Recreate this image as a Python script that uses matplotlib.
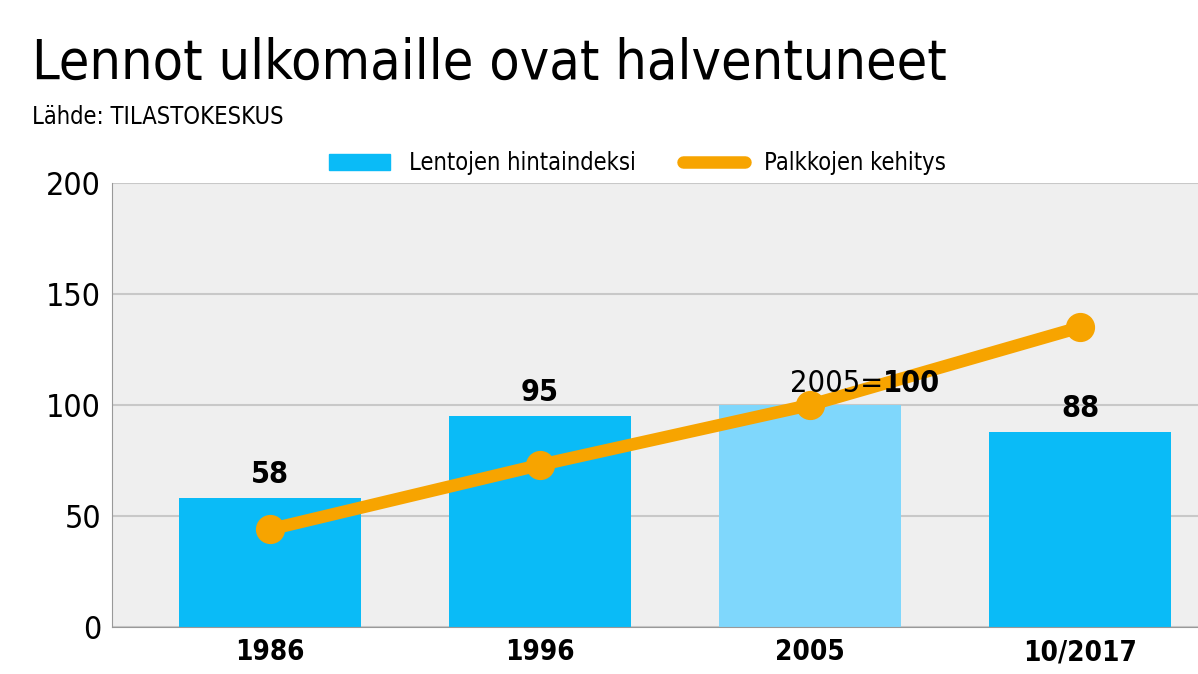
import matplotlib.pyplot as plt
from matplotlib.patches import Patch
from matplotlib.lines import Line2D

years = ["1986", "1996", "2005", "10/2017"]
flight_index = [58, 95, 100, 88]
wages = [44, 73, 100, 135]
yticks = [0, 50, 100, 150, 200]

plt.rcParams["font.family"] = "DejaVu Sans"
plt.rcParams["font.stretch"] = "condensed"
blue = "#0abbf7"
light_blue = "#7fd7fc"
orange = "#f7a400"

fig = plt.figure(figsize=(11.98, 6.74), dpi=100)
ax = fig.add_axes([0.0935, 0.0697, 0.9065, 0.6588])
ax.set_facecolor("#efefef")

x = list(range(len(years)))
colors = [blue, blue, light_blue, blue]
ax.bar(x, flight_index, width=0.674, color=colors, zorder=2)
ax.plot(x, wages, color=orange, lw=9, marker="o", markersize=20, zorder=3,
        solid_capstyle="round")

for i, v in enumerate(flight_index):
    if i == 2:
        continue
    ax.text(i, v + 4, str(v), ha="center", va="bottom", fontsize=22, fontweight="bold")
ax.text(2.27, 103, "2005=", ha="right", va="bottom", fontsize=22)
ax.text(2.27, 103, "100", ha="left", va="bottom", fontsize=22, fontweight="bold")

ax.set_xlim(-0.585, 3.437)
ax.set_ylim(0, 200)
ax.set_yticks(yticks)
ax.set_yticklabels([str(t) for t in yticks], fontsize=23)
ax.set_xticks(x)
ax.set_xticklabels(years, fontsize=20, fontweight="bold")
ax.grid(axis="y", color="#c8c8c8", lw=1.5, zorder=0)
ax.tick_params(length=0, pad=8)
for s in ["top", "right"]:
    ax.spines[s].set_visible(False)
ax.spines["left"].set_color("#999999")
ax.spines["bottom"].set_color("#999999")

handles = [Patch(color=blue, label="Lentojen hintaindeksi"),
           Line2D([0], [0], color=orange, lw=9, solid_capstyle="round", label="Palkkojen kehitys")]
fig.legend(handles=handles, loc="center", bbox_to_anchor=(0.532, 0.758), ncol=2,
           frameon=False, prop={"size": 17}, handlelength=2.6, columnspacing=2.0)

fig.text(0.027, 0.905, "Lennot ulkomaille ovat halventuneet", fontsize=40, va="center")
fig.text(0.027, 0.826, "Lähde: TILASTOKESKUS", fontsize=17, va="center")

fig.savefig("out.png", dpi=100)
